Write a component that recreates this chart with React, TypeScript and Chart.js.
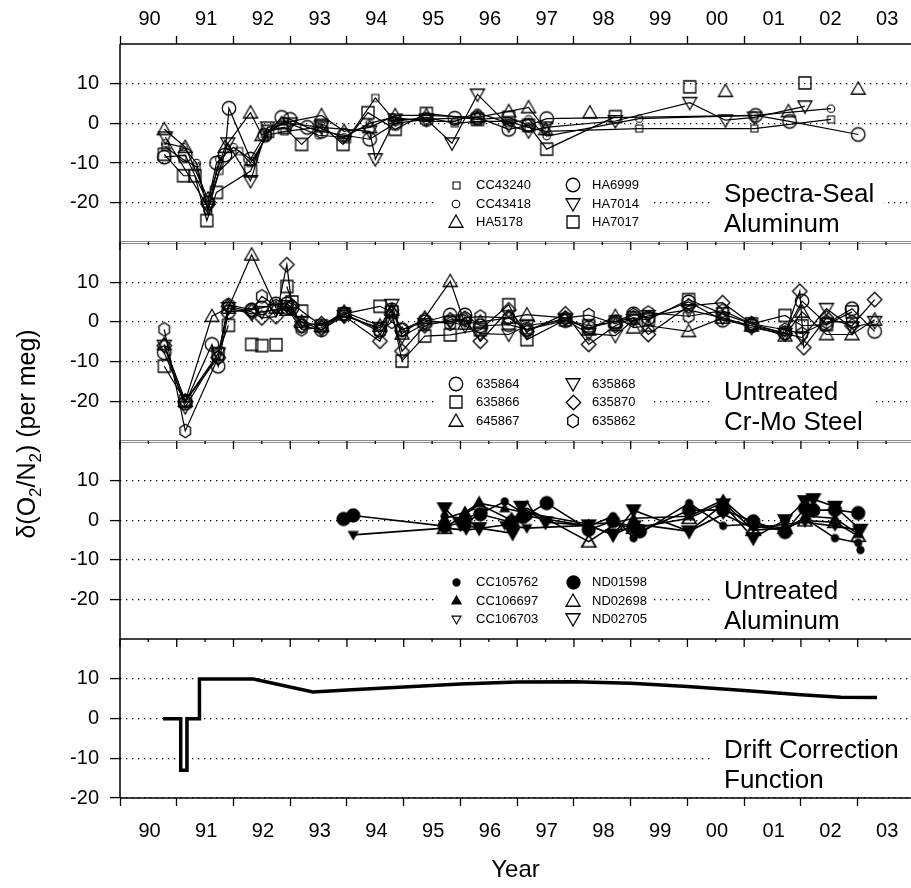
import React, { useEffect, useRef } from 'react';
import { Chart, registerables } from 'chart.js';

Chart.register(...registerables);

const FONT = '"Liberation Sans", Arial, Helvetica, sans-serif';

// ---------- axes ----------
const YEAR_TICKS = [90, 91, 92, 93, 94, 95, 96, 97, 98, 99, 100, 101, 102, 103];
const YEAR_LABELS = ['90', '91', '92', '93', '94', '95', '96', '97', '98', '99', '00', '01', '02', '03'];
const Y_TICKS = [10, 0, -10, -20];

// ---------- panel 1: Spectra-Seal Aluminum ----------
const CC43240_X = [90.8, 91.1, 91.35, 91.55, 91.75, 92.1, 92.3, 92.6, 92.9, 93.5, 94.0, 94.5, 94.85, 95.4, 95.9, 96.3, 96.85, 97.2, 97.5, 99.15, 101.18, 102.53];
const CC43240_Y = [-6, -9, -11, -22, -12, -7, -10, -3, -2, -1, -4, 6.4, 0.5, 1.5, 0, 0.5, 0.5, -1, -2, -1.3, -1.3, 1];
const CC43418_X = [90.8, 91.12, 91.35, 91.55, 91.75, 92.0, 92.35, 92.6, 92.9, 93.5, 93.95, 94.4, 94.8, 95.4, 95.9, 96.3, 96.85, 97.2, 97.52, 99.15, 101.18, 102.53];
const CC43418_Y = [-5, -6, -10, -22, -9, -6, -9.5, -2.5, 0.5, -3, -3.5, 0, 1.5, 0.5, 0.5, 2.7, 0, 1, -3.2, 1.2, 2, 3.7];
const HA5178_X = [90.78, 91.15, 91.55, 91.85, 92.3, 92.5, 92.85, 93.55, 93.95, 94.4, 94.85, 95.4, 96.3, 96.85, 97.2, 97.5, 97.5, 98.28, 98.28, 100.67, 100.67, 101.78, 101.78, 103.01];
const HA5178_Y = [-1.5, -6, -19, -6, 2.7, -3, 0, 2, -2, -1, 2, 2, 1.5, 3, 4, -1.5, null, 2.7, null, 8.1, null, 3, null, 8.7];
const HA6999_X = [90.78, 91.15, 91.55, 91.7, 91.85, 91.92, 92.3, 92.55, 92.85, 93.0, 93.3, 93.55, 93.95, 94.4, 94.85, 95.4, 95.9, 96.3, 96.85, 97.2, 97.52, 101.2, 101.8, 103.01];
const HA6999_Y = [-8.5, -8, -20, -10, -8, 3.8, -9, -3, 1.5, 1, -1, -2, -3, -4, 0, 1, 1.3, 1.5, -1.5, -0.5, 1.2, 2, 0.5, -2.8];
const HA7014_X = [90.8, 91.55, 91.9, 92.3, 92.6, 93.0, 93.55, 94.4, 94.5, 94.85, 95.4, 95.85, 96.3, 96.85, 97.2, 97.5, 98.73, 100.04, 100.67, 101.18, 102.07];
const HA7014_Y = [-3.5, -21, -5, -14.5, -1, 0, -1, -2, -9, 1, 1, -5, 7.3, -0.5, -2, -1, 0.6, 5.2, 0.8, 1.5, 4.3];
const HA7017_X = [90.78, 91.12, 91.32, 91.53, 91.7, 92.3, 92.6, 92.9, 93.2, 93.55, 93.93, 94.37, 94.85, 95.4, 96.3, 96.85, 97.2, 97.52, 98.73, 98.73, 100.04, 100.04, 102.07];
const HA7017_Y = [-7.8, -13.2, -13.2, -24.5, -17.4, -12, -2, -1, -5.3, -0.5, -5.3, 2.7, -1.5, 2.5, 1, 1.5, -0.5, -6.5, 1.7, null, 9.2, null, 10.2];

// ---------- panel 2: Untreated Cr-Mo Steel ----------
const S635864_X = [90.78, 91.15, 91.62, 91.73, 91.91, 92.32, 92.5, 92.75, 92.94, 93.03, 93.2, 93.55, 93.95, 94.58, 94.79, 94.97, 95.37, 95.82, 96.08, 96.35, 96.85, 97.17, 97.85, 98.26, 98.73, 99.05, 99.31, 100.02, 100.62, 101.13, 101.72, 102.02, 102.45, 102.9, 103.3];
const S635864_Y = [-7.8, -20.5, -5.7, -11.2, 2.5, 3, 3.5, 4.5, 4.5, 3.5, -1, -2, 2, -2, 3, -2, 0, 1.7, 1.7, -1, -0.7, -1.9, 0.3, -1.5, 0, 2, 1, 5, 0.4, -1, -2.8, 5.2, -0.5, 3.3, -2.4];
const S635866_X = [90.78, 91.15, 91.73, 91.91, 91.91, 92.32, 92.32, 92.5, 92.5, 92.75, 92.75, 92.94, 93.03, 93.2, 93.55, 93.95, 94.58, 94.79, 94.97, 95.37, 95.82, 96.35, 96.85, 97.17, 97.85, 98.26, 98.73, 99.05, 99.31, 100.02, 100.62, 101.13, 101.72, 102.02, 102.45, 102.9];
const S635866_Y = [-11.2, -20, -8, -0.9, null, -5.7, null, -6, null, -5.8, null, 8.9, 5, 2.7, -1, 2, 3.9, 2.5, -9.9, -3.6, -3.3, -2, 4.3, -4.5, 0.5, -1, 0, 1, 0.5, 5.6, 2, -0.5, 1.6, -1, -0.7, 2.5];
const S645867_X = [90.78, 91.15, 91.62, 91.91, 92.32, 92.75, 92.94, 93.2, 93.55, 93.95, 94.58, 94.79, 94.97, 95.37, 95.82, 96.08, 96.35, 96.85, 97.17, 97.85, 98.26, 98.73, 99.05, 99.31, 100.02, 100.62, 101.13, 101.72, 102.02, 102.45, 102.9, 103.3];
const S645867_Y = [-5.7, -20, 1.4, 3.5, 16.9, 3.5, 3, 0, -1, 2.5, -1, 3, -3, 1, 10.2, -0.5, 0, 1, 1.8, 1, -2, 1.4, -1.5, -1, -2.4, 1, -1, -3.5, 2.5, -3.2, -3.2, 0.5];
const S635868_X = [90.78, 91.15, 91.73, 91.91, 92.32, 92.5, 92.75, 92.94, 93.2, 93.55, 93.95, 94.58, 94.79, 94.97, 95.37, 95.82, 96.08, 96.35, 96.85, 97.17, 97.85, 98.26, 98.73, 99.05, 99.31, 100.02, 100.62, 101.13, 101.72, 102.02, 102.45, 102.9, 103.3];
const S635868_Y = [-6, -21.5, -8, 3.5, 2, 2.5, 3, 4, 0, -2, 1.5, -1.5, 4.3, -3.7, -0.5, 0, -1, -3, -3.2, -1, 0.5, -3, -3.5, 0.5, 1.5, 3, 1, -1.5, -3, -4, 3.3, -1.5, 0];
const S635870_X = [90.78, 91.15, 91.73, 91.91, 92.32, 92.5, 92.75, 92.94, 93.03, 93.2, 93.55, 93.95, 94.58, 94.79, 94.97, 95.37, 95.82, 96.08, 96.35, 96.85, 97.17, 97.85, 98.26, 98.73, 99.05, 99.31, 100.02, 100.62, 101.13, 101.72, 101.98, 102.05, 102.45, 102.9, 103.3];
const S635870_Y = [-6, -20, -9, 3.9, 2.5, 1, 1.3, 14.4, 4, -1, -0.5, 1.5, -4.9, 2, -7.4, -1, 0.5, 0.5, -4.9, 3, -2.5, 2, -5.7, -1, 1, -3.2, 4, 4.8, -0.5, -3, 7.7, -6.5, 1, -1, 5.6];
const S635862_X = [90.78, 91.15, 91.73, 91.91, 92.32, 92.5, 92.75, 92.94, 93.2, 93.55, 93.95, 94.58, 94.79, 94.97, 95.37, 95.82, 96.08, 96.35, 96.85, 97.17, 97.85, 98.26, 98.73, 99.05, 99.31, 100.02, 100.62, 101.13, 101.72, 102.02, 102.45, 102.9];
const S635862_Y = [-1.9, -27.5, -9, 4.3, 3, 6.4, 4, 3.5, -1.9, -1.5, 2, -2.5, 0, -2, 0.5, -0.5, 1, 1.3, 1, -2, 1, 1.7, -0.5, 1.7, 2.3, 1.4, 2.8, -0.5, -2, -3, 0, 0];

// ---------- panel 3: Untreated Aluminum ----------
const CC105762_X = [95.72, 96.08, 96.4, 96.78, 97.2, 98.26, 98.69, 99.05, 99.2, 100.03, 100.63, 101.16, 101.72, 102.07, 102.6, 103.01, 103.05];
const CC105762_Y = [1, 0.5, 2, 4.7, 1, -1.5, 1, -4.5, -3, 4.3, -1.4, -1, -2, 0.5, -4.5, -5.7, -7.5];
const CC106697_X = [95.72, 96.08, 96.33, 96.78, 97.1, 98.26, 98.75, 99.05, 100.03, 100.63, 101.16, 101.72, 102.1, 102.6, 103.01];
const CC106697_Y = [0.5, 2, 4.3, 3, 2, -1, -0.5, 0.5, 1, 5.1, -1.5, -2.5, 1, 0.5, -3.5];
const CC106703_X = [94.11, 95.72, 96.1, 96.78, 97.17, 98.26, 98.69, 99.1, 100.03, 100.63, 101.16, 101.72, 102.07, 102.6, 103.0];
const CC106703_Y = [-3.7, -2, -2.5, -1.2, -2, -1.3, -3.7, -1, -2.8, 1.5, -2, -1, -0.5, -1.5, -2.4];
const ND01598_X = [93.94, 94.11, 95.72, 96.08, 96.35, 96.9, 97.1, 97.52, 98.26, 98.69, 99.05, 99.16, 100.03, 100.63, 101.16, 101.72, 102.07, 102.22, 102.6, 103.01];
const ND01598_Y = [0.3, 1.2, -1.5, -0.5, 1.5, -0.5, 0.8, 4.3, -2.4, -0.2, -1.7, -2.8, 2.5, 2.6, -0.3, -3, 3, 2.5, 2.6, 1.8];
const ND02698_X = [95.72, 96.08, 96.33, 96.9, 97.17, 98.26, 98.73, 99.05, 100.03, 100.63, 101.16, 101.72, 102.07, 102.6, 103.01];
const ND02698_Y = [-2, 1.5, 4, 0, 3, -5.4, -1, -2, 0.5, 4.5, -2.5, -2, -0.1, -0.5, -4];
const ND02705_X = [95.72, 96.0, 96.33, 96.92, 97.07, 97.5, 98.26, 98.69, 99.05, 100.03, 100.63, 101.16, 101.72, 102.07, 102.22, 102.6, 103.05];
const ND02705_Y = [3, -1, -2, -3.3, 3.4, -0.5, -1.3, -3.7, 2.5, -2.8, 4, -4.5, 0, 4.8, 5.3, 3.4, -2.4];

// ---------- panel 4: drift correction ----------
const DRIFT_X = [90.76, 91.07, 91.07, 91.18, 91.18, 91.4, 91.4, 92.35, 93.4, 94.0, 95.0, 96.0, 97.0, 98.0, 99.0, 100.0, 101.0, 102.0, 102.7, 103.34];
const DRIFT_Y = [0, 0, -13, -13, 0, 0, 10, 10, 6.7, 7.2, 8.0, 8.7, 9.2, 9.3, 8.9, 8.1, 7.1, 6.0, 5.4, 5.3];

const PANEL_NOTES = [
  ['Spectra-Seal', 'Aluminum'],
  ['Untreated', 'Cr-Mo Steel'],
  ['Untreated', 'Aluminum'],
  ['Drift Correction', 'Function'],
];

type Shape = 'circle' | 'square' | 'triUp' | 'triDown' | 'diamond' | 'hexagon';

function makeMarker(shape: Shape, size: number, filled: boolean, lw = 1.3): HTMLCanvasElement {
  const pad = 2;
  const dim = Math.round(size + pad * 2);
  const c = document.createElement('canvas');
  c.width = dim;
  c.height = dim;
  const g = c.getContext('2d') as CanvasRenderingContext2D;
  const cx = dim / 2;
  const cy = dim / 2;
  const r = size / 2;
  g.beginPath();
  if (shape === 'circle') g.arc(cx, cy, r, 0, Math.PI * 2);
  else if (shape === 'square') g.rect(cx - r, cy - r, 2 * r, 2 * r);
  else if (shape === 'triUp') {
    g.moveTo(cx, cy - r);
    g.lineTo(cx + r, cy + r * 0.75);
    g.lineTo(cx - r, cy + r * 0.75);
    g.closePath();
  } else if (shape === 'triDown') {
    g.moveTo(cx, cy + r);
    g.lineTo(cx + r, cy - r * 0.75);
    g.lineTo(cx - r, cy - r * 0.75);
    g.closePath();
  } else if (shape === 'diamond') {
    g.moveTo(cx, cy - r);
    g.lineTo(cx + r, cy);
    g.lineTo(cx, cy + r);
    g.lineTo(cx - r, cy);
    g.closePath();
  } else {
    for (let i = 0; i < 6; i++) {
      const a = -Math.PI / 2 + (i * Math.PI) / 3;
      const px = cx + r * 0.9 * Math.cos(a);
      const py = cy + r * Math.sin(a);
      if (i === 0) g.moveTo(px, py);
      else g.lineTo(px, py);
    }
    g.closePath();
  }
  if (filled) {
    g.fillStyle = '#000';
    g.fill();
  }
  g.lineWidth = lw;
  g.strokeStyle = '#000';
  g.stroke();
  return c;
}

export default function App() {
  const ref = useRef<HTMLCanvasElement | null>(null);

  useEffect(() => {
    const canvas = ref.current;
    if (!canvas) return;

    const M = {
      smSq: makeMarker('square', 7, false, 1.1),
      smCi: makeMarker('circle', 7.5, false, 1.1),
      tri: makeMarker('triUp', 14, false),
      ci: makeMarker('circle', 13.5, false),
      triD: makeMarker('triDown', 14, false),
      sq: makeMarker('square', 12, false),
      dia: makeMarker('diamond', 14.5, false),
      hex: makeMarker('hexagon', 13.5, false),
      smCiF: makeMarker('circle', 7, true),
      smTriF: makeMarker('triUp', 9, true),
      smTriDF: makeMarker('triDown', 9, true),
      smTriD: makeMarker('triDown', 9, false, 1.1),
      ciF: makeMarker('circle', 13, true),
      triB: makeMarker('triUp', 14, false, 1.7),
      triDF: makeMarker('triDown', 14, true),
    };

    const mk = (label: string, xs: number[], ys: (number | null)[], yAxisID: string, marker: any, legendMarker: any, bw: number) => ({
      label,
      data: xs.map((x, i) => ({ x, y: ys[i] })),
      xAxisID: 'x',
      yAxisID,
      borderColor: '#000',
      backgroundColor: 'rgba(0,0,0,0)',
      borderWidth: bw,
      pointStyle: marker,
      pointRadius: 6,
      pointHoverRadius: 6,
      showLine: true,
      spanGaps: false,
      tension: 0,
      legendMarker,
    });

    const datasets: any[] = [
      mk('CC43240', CC43240_X, CC43240_Y, 'y1', M.smSq, M.smSq, 1.2),
      mk('CC43418', CC43418_X, CC43418_Y, 'y1', M.smCi, M.smCi, 1.2),
      mk('HA5178', HA5178_X, HA5178_Y, 'y1', M.tri, M.tri, 1.2),
      mk('HA6999', HA6999_X, HA6999_Y, 'y1', M.ci, M.ci, 1.2),
      mk('HA7014', HA7014_X, HA7014_Y, 'y1', M.triD, M.triD, 1.2),
      mk('HA7017', HA7017_X, HA7017_Y, 'y1', M.sq, M.sq, 1.2),
      mk('635864', S635864_X, S635864_Y, 'y2', M.ci, M.ci, 1.2),
      mk('635866', S635866_X, S635866_Y, 'y2', M.sq, M.sq, 1.2),
      mk('645867', S645867_X, S645867_Y, 'y2', M.tri, M.tri, 1.2),
      mk('635868', S635868_X, S635868_Y, 'y2', M.triD, M.triD, 1.2),
      mk('635870', S635870_X, S635870_Y, 'y2', M.dia, M.dia, 1.2),
      mk('635862', S635862_X, S635862_Y, 'y2', M.hex, M.hex, 1.2),
      mk('CC105762', CC105762_X, CC105762_Y, 'y3', M.smCiF, M.smCiF, 1.6),
      mk('CC106697', CC106697_X, CC106697_Y, 'y3', M.smTriF, M.smTriF, 1.6),
      mk('CC106703', CC106703_X, CC106703_Y, 'y3', M.smTriDF, M.smTriD, 1.6),
      mk('ND01598', ND01598_X, ND01598_Y, 'y3', M.ciF, M.ciF, 1.6),
      mk('ND02698', ND02698_X, ND02698_Y, 'y3', M.triB, M.tri, 1.6),
      mk('ND02705', ND02705_X, ND02705_Y, 'y3', M.triDF, M.triD, 1.6),
      {
        label: 'Drift',
        data: DRIFT_X.map((x, i) => ({ x, y: DRIFT_Y[i] })),
        xAxisID: 'x',
        yAxisID: 'y4',
        borderColor: '#000',
        borderWidth: 3.5,
        pointRadius: 0,
        showLine: true,
        tension: 0,
        borderJoinStyle: 'miter',
        borderCapStyle: 'butt',
      },
    ];

    const legends = ['y1', 'y2', 'y3', 'y4'].map((id) =>
      datasets.filter((d) => d.yAxisID === id && d.legendMarker).map((d) => ({ label: d.label, marker: d.legendMarker }))
    );

    const yAxis = (weight: number, min: number, stackWeight: number) => ({
      type: 'linear',
      position: 'left',
      stack: 'panels',
      stackWeight,
      weight,
      min,
      max: 20,
      afterBuildTicks: (s: any) => {
        s.ticks = Y_TICKS.map((v) => ({ value: v }));
      },
      afterFit: (s: any) => {
        s.width = 120;
        s.paddingTop = 0;
        s.paddingBottom = 0;
      },
      ticks: { color: '#000', font: { family: FONT, size: 20 }, padding: 11, callback: (v: any) => String(v) },
      grid: { color: '#000', lineWidth: 1.2, drawTicks: true, tickLength: 10, tickColor: '#000', tickWidth: 1.3, drawOnChartArea: true },
      border: { display: false, dash: [1.3, 4.7] },
    });

    const xAxis = (position: string, height: number, padding: number, withTitle: boolean) => ({
      type: 'linear',
      position,
      min: 90,
      max: 103.94,
      afterBuildTicks: (s: any) => {
        s.ticks = YEAR_TICKS.map((v) => ({ value: v }));
      },
      afterFit: (s: any) => {
        s.height = height;
        s.paddingLeft = 0;
        s.paddingRight = 0;
      },
      ticks: {
        color: '#000',
        font: { family: FONT, size: 20 },
        padding,
        labelOffset: 29.5,
        autoSkip: false,
        maxRotation: 0,
        minRotation: 0,
        callback: (_v: any, i: number) => YEAR_LABELS[i],
      },
      grid: { drawOnChartArea: false, drawTicks: true, tickLength: 8, tickColor: '#000', tickWidth: 1.3, color: '#000' },
      border: { display: false },
      title: withTitle
        ? { display: true, text: 'Year', color: '#000', font: { family: FONT, size: 24 }, padding: { top: 0, bottom: 3 } }
        : { display: false },
    });

    const line = (ctx: CanvasRenderingContext2D, x1: number, y1: number, x2: number, y2: number) => {
      ctx.beginPath();
      ctx.moveTo(x1, y1);
      ctx.lineTo(x2, y2);
      ctx.stroke();
    };

    const extras = {
      id: 'panelExtras',
      afterDraw(chart: any) {
        const ctx: CanvasRenderingContext2D = chart.ctx;
        const { left, right, top, bottom } = chart.chartArea;
        const xs = chart.scales.x;
        const ids = ['y1', 'y2', 'y3', 'y4'];
        ctx.save();
        ctx.setLineDash([]);
        ids.forEach((id, i) => {
          const b = chart.scales[id].bottom;
          const leg = legends[i];
          if (leg.length) {
            const rows = [b - 57, b - 38.5, b - 20];
            ctx.fillStyle = '#fff';
            ctx.fillRect(437, rows[0] - 11, 216, rows[2] - rows[0] + 22);
            ctx.font = `13px ${FONT}`;
            ctx.textAlign = 'left';
            ctx.textBaseline = 'middle';
            leg.forEach((e: any, k: number) => {
              const col = k < 3 ? 0 : 1;
              const row = k % 3;
              const mx = col ? 573 : 456;
              const tx = col ? 592 : 476;
              const m = e.marker as HTMLCanvasElement;
              ctx.drawImage(m, Math.round(mx - m.width / 2), Math.round(rows[row] - m.height / 2));
              ctx.fillStyle = '#000';
              ctx.fillText(e.label, tx, rows[row] + 0.5);
            });
          }
          const lines = PANEL_NOTES[i];
          ctx.font = `26px ${FONT}`;
          ctx.textAlign = 'left';
          ctx.textBaseline = 'alphabetic';
          const w = Math.max(...lines.map((t) => ctx.measureText(t).width));
          const bl1 = b - 40.5;
          const bl2 = b - 10.5;
          ctx.fillStyle = '#fff';
          ctx.fillRect(713, bl1 - 22, w + 20, bl2 - bl1 + 29);
          ctx.fillStyle = '#000';
          ctx.fillText(lines[0], 724, bl1);
          ctx.fillText(lines[1], 724, bl2);
        });

        const b1 = Math.round(chart.scales.y1.bottom);
        const b2 = Math.round(chart.scales.y2.bottom);
        const b3 = Math.round(chart.scales.y3.bottom);
        ctx.strokeStyle = '#8c8c8c';
        ctx.lineWidth = 1;
        [b1, b2].forEach((b) => {
          line(ctx, left, b - 0.5, right, b - 0.5);
          line(ctx, left, b + 1.5, right, b + 1.5);
        });
        ctx.strokeStyle = '#000';
        ctx.lineWidth = 1.5;
        line(ctx, left, b3, right, b3);
        line(ctx, left, top, right, top);
        line(ctx, left, bottom, right, bottom);
        line(ctx, left, top, left, bottom);

        ctx.lineWidth = 1.3;
        [b1, b2, b3].forEach((b) => {
          YEAR_TICKS.forEach((v) => {
            const px = xs.getPixelForValue(v);
            line(ctx, px, b, px, b + 8);
            const ph = xs.getPixelForValue(v + 0.5);
            if (ph < right) line(ctx, ph, b, ph, b + 3);
          });
        });

        // y-axis title with subscripts
        ctx.save();
        ctx.translate(35, 434);
        ctx.rotate(-Math.PI / 2);
        ctx.fillStyle = '#000';
        ctx.textBaseline = 'alphabetic';
        ctx.textAlign = 'left';
        const parts: [string, boolean][] = [
          ['δ(O', false],
          ['2', true],
          ['/N', false],
          ['2', true],
          [') (per meg)', false],
        ];
        const fontFor = (sub: boolean) => (sub ? `17px ${FONT}` : `25px ${FONT}`);
        let total = 0;
        parts.forEach(([t, s]) => {
          ctx.font = fontFor(s);
          total += ctx.measureText(t).width;
        });
        let cx = -total / 2;
        parts.forEach(([t, s]) => {
          ctx.font = fontFor(s);
          ctx.fillText(t, cx, s ? 6 : 0);
          cx += ctx.measureText(t).width;
        });
        ctx.restore();
        ctx.restore();
      },
    };

    const chart = new Chart(canvas, {
      type: 'line',
      data: { datasets },
      options: {
        animation: false,
        responsive: false,
        devicePixelRatio: 1,
        events: [],
        layout: { padding: 0, autoPadding: false },
        plugins: { legend: { display: false }, tooltip: { enabled: false } },
        scales: {
          x: xAxis('bottom', 90, 13, true),
          x2: xAxis('top', 44, 5, false),
          y1: yAxis(4, -30, 50),
          y2: yAxis(3, -30, 50),
          y3: yAxis(2, -30, 50),
          y4: yAxis(1, -20, 40),
        } as any,
      },
      plugins: [extras],
    } as any);

    return () => chart.destroy();
  }, []);

  return (
    <div style={{ position: 'absolute', left: 0, top: 0, width: 911, height: 888, background: '#fff' }}>
      <canvas ref={ref} width={911} height={888} style={{ display: 'block', width: 911, height: 888 }} />
    </div>
  );
}
